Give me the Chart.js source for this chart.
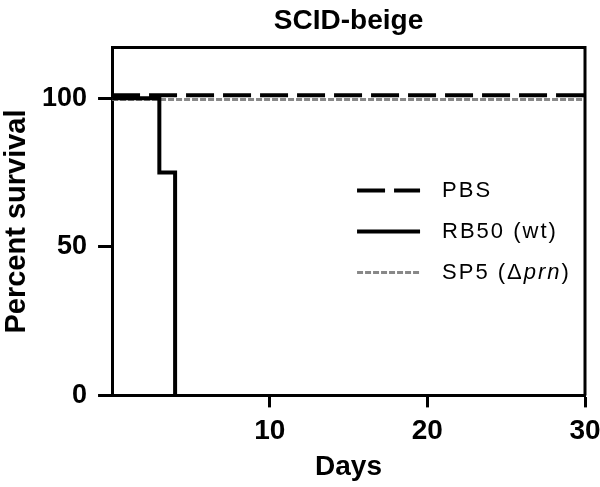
<!DOCTYPE html>
<html>
<head>
<meta charset="utf-8">
<script src="https://cdn.jsdelivr.net/npm/chart.js@4.4.1/dist/chart.umd.min.js"></script>
<style>
  html, body { margin: 0; padding: 0; background: #fff; }
  #wrap { width: 600px; height: 487px; }
</style>
</head>
<body>
<div id="wrap"><canvas id="survChart"></canvas></div>
<script>
// data
var seriesNames = ['PBS', 'RB50 (wt)', 'SP5 (\u0394prn)'];
var pbsDays = [0, 30];
var pbsSurvival = [101, 101];
var rbDays = [0, 3, 4];
var rbSurvival = [100, 75, 0];
var sp5Days = [0, 30];
var sp5Survival = [99.5, 99.5];
var xTickValues = [10, 20, 30];
var yTickValues = [0, 50, 100];

var FONT = '"Liberation Sans", Arial, sans-serif';

function toPoints(xs, ys) {
    return xs.map(function (x, i) { return { x: x, y: ys[i] }; });
}

// box around the plot + legend inside the plot area
var framePlugin = {
    id: 'frame',
    afterDatasetsDraw: function (chart) {
        var ctx = chart.ctx, a = chart.chartArea;
        ctx.save();
        ctx.strokeStyle = '#000';
        ctx.lineWidth = 3;
        ctx.beginPath();
        ctx.moveTo(a.left, a.top);
        ctx.lineTo(a.right, a.top);
        ctx.lineTo(a.right, a.bottom);
        ctx.stroke();

        // legend
        ctx.textBaseline = 'middle';
        ctx.fillStyle = '#000';
        chart.data.datasets.forEach(function (ds, i) {
            var y = a.top + 143 + i * 41;
            var x0 = a.left + 245, x1 = a.left + 308;
            ctx.save();
            ctx.strokeStyle = ds.borderColor;
            ctx.lineWidth = ds.borderWidth;
            ctx.setLineDash(ds.borderDash || []);
            ctx.beginPath();
            ctx.moveTo(x0, y);
            ctx.lineTo(x1, y);
            ctx.stroke();
            ctx.restore();
            ctx.letterSpacing = '2px';
            var tx = a.left + 330;
            var d = ds.label.indexOf('\u0394');
            var parts = d >= 0
                ? [[ds.label.slice(0, d + 1), false], [ds.label.slice(d + 1, -1), true], [')', false]]
                : [[ds.label, false]];
            parts.forEach(function (p) {
                ctx.font = (p[1] ? 'italic ' : '') + '22px ' + FONT;
                ctx.fillText(p[0], tx, y);
                tx += ctx.measureText(p[0]).width;
            });
            ctx.letterSpacing = '0px';
        });
        ctx.restore();
    }
};

var ctxSurv = document.getElementById('survChart').getContext('2d');
var survChart = new Chart(ctxSurv, {
    type: 'scatter',
    data: {
        datasets: [{
            label: seriesNames[0],
            data: toPoints(pbsDays, pbsSurvival),
            showLine: true,
            borderColor: '#000',
            borderWidth: 4,
            borderDash: [28, 9],
            pointRadius: 0
        }, {
            label: seriesNames[1],
            data: toPoints(rbDays, rbSurvival),
            showLine: true,
            stepped: 'before',
            borderColor: '#000',
            borderWidth: 4,
            pointRadius: 0
        }, {
            label: seriesNames[2],
            data: toPoints(sp5Days, sp5Survival),
            showLine: true,
            borderColor: '#888',
            borderWidth: 3,
            borderDash: [6, 2],
            pointRadius: 0
        }]
    },
    options: {
        responsive: true,
        maintainAspectRatio: false,
        animation: false,
        layout: { padding: { left: 2, right: 0, top: 4, bottom: 6 } },
        plugins: {
            legend: { display: false },
            tooltip: { enabled: false },
            title: {
                display: true,
                fullSize: false,
                text: 'SCID-beige',
                color: '#000',
                font: { family: FONT, size: 28, weight: 'bold' },
                padding: { top: 0, bottom: 10 }
            }
        },
        scales: {
            x: {
                type: 'linear',
                min: 0,
                max: 30,
                afterBuildTicks: function (axis) {
                    axis.ticks = xTickValues.map(function (v) { return { value: v }; });
                },
                afterFit: function (axis) { axis.paddingRight = 15; },
                border: { color: '#000', width: 3 },
                grid: { drawOnChartArea: false, tickLength: 12, tickWidth: 3, tickColor: '#000' },
                ticks: { color: '#000', padding: 7, maxRotation: 0, font: { family: FONT, size: 28, weight: 'bold' } },
                title: { display: true, text: 'Days', color: '#000', padding: { top: -2, bottom: 0 },
                         font: { family: FONT, size: 28, weight: 'bold', lineHeight: 1 } }
            },
            y: {
                min: 0,
                max: 117,
                afterBuildTicks: function (axis) {
                    axis.ticks = yTickValues.map(function (v) { return { value: v }; });
                },
                border: { color: '#000', width: 3 },
                grid: { drawOnChartArea: false, tickLength: 14, tickWidth: 3, tickColor: '#000' },
                ticks: { color: '#000', padding: 11, font: { family: FONT, size: 27, weight: 'bold' } },
                title: { display: true, text: 'Percent survival', color: '#000', padding: { top: 0, bottom: 0 },
                         font: { family: FONT, size: 29, weight: 'bold', lineHeight: 1 } }
            }
        }
    },
    plugins: [framePlugin]
});
</script>
</body>
</html>
